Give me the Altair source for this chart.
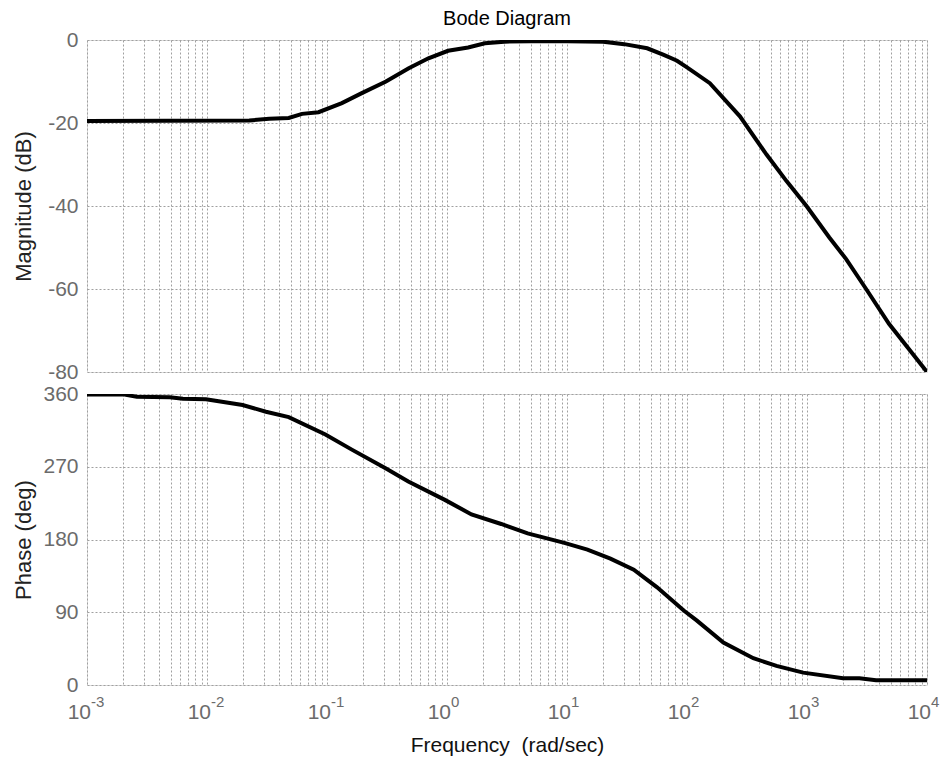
import altair as alt
import pandas as pd

# ---- data ----
mag_freq = [0.001, 0.0225, 0.033, 0.048, 0.062, 0.085, 0.133, 0.195, 0.31, 0.48, 0.70,
            1.02, 1.5, 2.07, 3.0, 5.0, 10.0, 20.0, 30.0, 46.6, 64.0, 82.6, 100.0, 155.0,
            276.0, 460.0, 675.0, 990.0, 1535.0, 2120.0, 3110.0, 4820.0, 10000.0]
mag_db = [-19.5, -19.4, -19.0, -18.8, -17.8, -17.4, -15.2, -12.8, -10.0, -6.8, -4.4,
          -2.6, -1.8, -0.8, -0.4, -0.3, -0.3, -0.4, -1.0, -2.0, -3.6, -5.0, -6.6, -10.4,
          -18.4, -27.6, -34.0, -40.0, -47.6, -52.8, -60.0, -68.4, -80.0]

phase_freq = [0.001, 0.002, 0.0026, 0.0049, 0.0063, 0.0098, 0.0198, 0.031, 0.048, 0.097,
              0.161, 0.305, 0.476, 0.96, 1.6, 2.83, 4.7, 9.5, 14.8, 23.0, 36.0, 56.0, 94.0,
              121.0, 201.0, 357.0, 557.0, 929.0, 1995.0, 2735.0, 3760.0, 10000.0]
phase_deg = [359.5, 359.5, 356.5, 356.0, 354.0, 353.5, 346.4, 338.1, 331.4, 309.9,
             291.2, 268.4, 251.8, 229.0, 211.0, 199.2, 187.5, 175.8, 167.6, 156.4, 142.7,
             121.1, 92.1, 79.6, 52.6, 33.2, 23.6, 15.3, 8.3, 8.3, 5.8, 5.8]

decades = [1e-3, 1e-2, 1e-1, 1.0, 10.0, 100.0, 1000.0, 10000.0]
decade_base = ["10"] * 8
decade_exp = ["-3", "-2", "-1", "0", "1", "2", "3", "4"]

mag_ticks = [-80, -60, -40, -20, 0]
phase_ticks = [0, 90, 180, 270, 360]

# log grid positions (1..9 x each decade)
grid_vals = [m * 10.0 ** e for e in range(-3, 4) for m in range(1, 10)] + [1e4]

FONT = "Liberation Sans"
W = 840
H_TOP = 332
H_BOT = 291
LABEL_GRAY = "#6b6b6b"
GRID = "#a0a0a0"

mag_df = pd.DataFrame({"freq": mag_freq, "db": mag_db})
phase_df = pd.DataFrame({"freq": phase_freq, "deg": phase_deg})
lab_df = pd.DataFrame({"freq": decades, "base": decade_base, "exp": decade_exp})

xscale = alt.Scale(type="log", domain=[1e-3, 1e4], nice=False)


def y_axis(values, title):
    return alt.Axis(
        values=values, title=title, grid=True, gridColor=GRID, gridDash=[2, 2],
        gridWidth=1, ticks=False, domain=False, labelFont=FONT, labelFontSize=21,
        labelColor=LABEL_GRAY, labelPadding=9, labelExpr="datum.value + ''",
        minExtent=44, maxExtent=44, titleFont=FONT, titleFontSize=22,
        titleFontWeight="normal", titleColor="#222222", titlePadding=8,
    )


bottom_x_axis = alt.Axis(values=grid_vals, labels=False, ticks=False, domain=False,
                         grid=True, gridColor=GRID, gridDash=[2, 2],
                         title="Frequency \u00a0(rad/sec)", titleFont=FONT,
                         titleFontSize=21, titleFontWeight="normal",
                         titleColor="#111111", titlePadding=49,
                         minExtent=0, maxExtent=0)

top = alt.Chart(mag_df).mark_line(color="black", strokeWidth=4, clip=True).encode(
    x=alt.X("freq:Q", scale=xscale,
            axis=alt.Axis(values=grid_vals, labels=False, ticks=False, domain=False,
                          title=None, grid=True, gridColor=GRID, gridDash=[2, 2],
                          minExtent=0, maxExtent=0)),
    y=alt.Y("db:Q", scale=alt.Scale(domain=[-80, 0], nice=False),
            axis=y_axis(mag_ticks, "Magnitude (dB)")),
).properties(
    width=W, height=H_TOP,
    title=alt.Title("Bode Diagram", font=FONT, fontSize=20, fontWeight="normal",
                    color="black", offset=0, frame="group", anchor="middle"),
)

phase_line = alt.Chart(phase_df).mark_line(color="black", strokeWidth=4, clip=True).encode(
    x=alt.X("freq:Q", scale=xscale, axis=bottom_x_axis),
    y=alt.Y("deg:Q", scale=alt.Scale(domain=[0, 360], nice=False),
            axis=y_axis(phase_ticks, "Phase (deg)")),
)

base_text = alt.Chart(lab_df).mark_text(
    font=FONT, fontSize=21, color=LABEL_GRAY, align="right", baseline="alphabetic", dx=4
).encode(x=alt.X("freq:Q", scale=xscale, axis=bottom_x_axis),
         y=alt.value(H_BOT + 34), text="base:N")

exp_text = alt.Chart(lab_df).mark_text(
    font=FONT, fontSize=15, color=LABEL_GRAY, align="left", baseline="alphabetic", dx=4
).encode(x=alt.X("freq:Q", scale=xscale, axis=bottom_x_axis),
         y=alt.value(H_BOT + 22), text="exp:N")

bottom = alt.layer(phase_line, base_text, exp_text).properties(width=W, height=H_BOT)

chart = alt.vconcat(top, bottom, spacing=22, bounds="flush").properties(
    padding={"left": 3, "top": 0, "right": 0, "bottom": 0}
).configure_view(stroke="#707070", strokeWidth=2).configure(background="white")

chart.save("out.html", embed_options={"renderer": "svg", "actions": False})
